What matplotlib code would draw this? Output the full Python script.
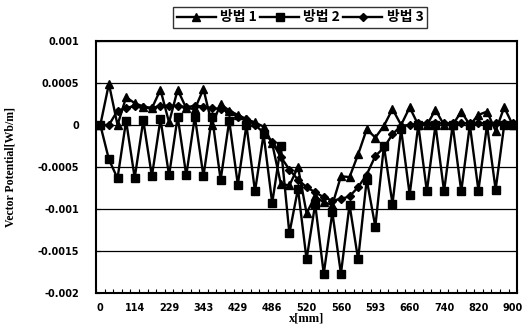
import numpy as np
import matplotlib
matplotlib.use("Agg")
from matplotlib import pyplot as plt

# values in units of 0.001 Wb/m, 49 sample points along x
method1 = [0, 0.49, 0.0, 0.33, 0.26, 0.22, 0.2, 0.42, 0.03, 0.42,
           0.2, 0.19, 0.43, 0.0, 0.25, 0.17, 0.12, 0.07, 0.03, -0.02,
           -0.22, -0.7, -0.72, -0.5, -1.05, -0.85, -0.92, -0.95, -0.61, -0.62,
           -0.35, -0.05, -0.15, -0.01, 0.19, 0.0, 0.21, 0.0, 0.0, 0.18,
           0.0, 0.0, 0.16, 0.0, 0.12, 0.16, -0.07, 0.21, 0.0]
method2 = [0, -0.41, -0.635, 0.05, -0.63, 0.055, -0.61, 0.07, -0.6, 0.1,
           -0.6, 0.1, -0.61, 0.1, -0.655, 0.05, -0.71, 0.0, -0.79, -0.11,
           -0.93, -0.25, -1.29, -0.76, -1.6, -0.94, -1.77, -1.04, -1.77, -0.95,
           -1.6, -0.65, -1.21, -0.25, -0.94, -0.05, -0.83, 0.0, -0.79, 0.0,
           -0.79, 0.0, -0.79, 0.0, -0.78, 0.0, -0.77, 0.0, 0.0]
method3 = [0, 0.0, 0.17, 0.2, 0.23, 0.21, 0.2, 0.23, 0.23, 0.23,
           0.21, 0.23, 0.22, 0.2, 0.19, 0.15, 0.1, 0.07, 0.0, -0.09,
           -0.2, -0.38, -0.53, -0.65, -0.74, -0.8, -0.86, -0.9, -0.88, -0.85,
           -0.74, -0.59, -0.37, -0.27, -0.11, -0.01, 0.0, 0.02, 0.02, 0.02,
           0.02, 0.02, 0.02, 0.02, 0.02, 0.02, 0.02, 0.02, 0.02]

x_labels = ['0', '114', '229', '343', '429', '486', '520', '560', '593',
            '660', '740', '820', '900']
y_ticks = [0.001, 0.0005, 0, -0.0005, -0.001, -0.0015, -0.002]
y_labels = ['0.001', '0.0005', '0', '-0.0005', '-0.001', '-0.0015', '-0.002']

fig = plt.figure(figsize=(5.32, 3.33), dpi=100)
ax = fig.add_axes([0.1805, 0.12, 0.7915, 0.757])

x = np.arange(len(method1))
ax.plot(x, np.array(method1) * 1e-3, color='black', lw=1.7, marker='^', ms=6, label='방법 1')
ax.plot(x, np.array(method2) * 1e-3, color='black', lw=1.7, marker='s', ms=5.5, label='방법 2')
ax.plot(x, np.array(method3) * 1e-3, color='black', lw=1.7, marker='D', ms=4, label='방법 3')

ax.set_xlim(-0.5, len(x) - 0.5)
ax.set_ylim(-0.002, 0.001)
ax.set_yticks(y_ticks)
ax.set_yticklabels(y_labels, fontsize=7, fontweight='bold')
ax.set_xticks(np.arange(0, len(x), 4))
ax.set_xticklabels(x_labels, fontsize=7, fontweight='bold')
ax.set_xticks(np.arange(-0.5, len(x), 1), minor=True)
ax.tick_params(axis='x', which='major', length=0, pad=7)
ax.tick_params(axis='x', which='minor', direction='in', length=3, width=0.8)
ax.tick_params(axis='y', direction='in', length=3, width=0.8, pad=12)
ax.grid(axis='y', color='black', lw=0.9)
for s in ax.spines.values():
    s.set_linewidth(1.5)

ax.set_ylabel('Vector Potential[Wb/m]', family='Liberation Serif', fontweight='bold', fontsize=8.5)
ax.yaxis.set_label_coords(-0.19, 0.5)
ax.set_xlabel('x[mm]', family='Liberation Serif', fontweight='bold', fontsize=9, labelpad=0)

leg = fig.legend(loc='upper center', bbox_to_anchor=(0.564, 1.0), ncol=3,
                 prop={'family': ['Noto Sans CJK KR', 'DejaVu Sans'], 'weight': 'bold', 'size': 10},
                 frameon=True, fancybox=False, edgecolor='black', handlelength=2.8,
                 handletextpad=0.3, columnspacing=0.25, borderpad=0.25)
leg.get_frame().set_linewidth(1.0)

plt.savefig('out.png', dpi=100)
